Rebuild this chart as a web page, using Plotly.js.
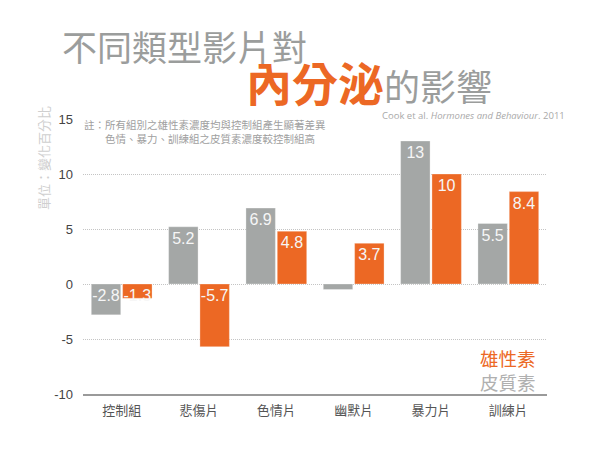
<!DOCTYPE html>
<html>
<head>
<meta charset="utf-8">
<script src="https://cdn.plot.ly/plotly-3.0.1.min.js"></script>
<style>html,body{margin:0;padding:0;background:#fff;}#chart{width:600px;height:450px;}</style>
</head>
<body>
<div id="chart"></div>
<script>
const categories = ['控制組', '悲傷片', '色情片', '幽默片', '暴力片', '訓練片'];
const cortisol = [-2.8, 5.2, 6.9, -0.5, 13, 5.5];
const testosterone = [-1.3, -5.7, 4.8, 3.7, 10, 8.4];
const seriesNames = ['皮質素', '雄性素'];
const yTicks = [-10, -5, 0, 5, 10, 15];

const GRAY = '#a4a7a6';
const ORANGE = '#ec6824';
const CJK = 'Liberation Sans, Noto Sans CJK TC, sans-serif';

function part(vals, positive) {
  return vals.map(v => (positive ? v >= 0 : v < 0) ? v : null);
}
function labels(vals, positive) {
  return vals.map(v => ((positive ? v >= 0 : v < 0) && Math.abs(v) >= 1) ? String(v) : '');
}
function mk(vals, name, color, group, positive) {
  return {
    type: 'bar', x: categories, y: part(vals, positive), name: name,
    offsetgroup: group, showlegend: false,
    marker: {color: color, line: {color: 'rgba(255,255,255,0.6)', width: 0.5}},
    text: labels(vals, positive), textposition: 'inside', textangle: 0,
    insidetextanchor: positive ? 'end' : 'start',
    constraintext: 'none',
    textfont: {family: 'Liberation Sans, Arial, sans-serif', size: 16, color: '#f6f6f6'},
    hoverinfo: 'x+y'
  };
}
const data = [
  mk(cortisol, seriesNames[0], GRAY, 'c', true),
  mk(cortisol, seriesNames[0], GRAY, 'c', false),
  mk(testosterone, seriesNames[1], ORANGE, 't', true),
  mk(testosterone, seriesNames[1], ORANGE, 't', false)
];

const L = 83, R = 547, T = 119, B = 394;
const px = x => (x - L) / (R - L);
const py = y => (B - y) / (B - T);

const layout = {
  width: 600, height: 450,
  margin: {l: L, r: 600 - R, t: T, b: 450 - B, pad: 0},
  paper_bgcolor: '#fff', plot_bgcolor: '#fff',
  barmode: 'group', bargap: 0.19, bargroupgap: 0.06,
  showlegend: false,
  font: {family: CJK, color: '#444'},
  xaxis: {
    showline: true, linecolor: '#9a9a9a', linewidth: 1.5,
    showgrid: false, ticks: '', ticklabelstandoff: 4,
    tickfont: {family: 'Noto Sans CJK TC, sans-serif', size: 13, color: '#555'}
  },
  yaxis: {
    range: [-10, 15], tickvals: yTicks, ticktext: yTicks.map(String),
    showgrid: true, gridcolor: '#c4c4c4', gridwidth: 1, griddash: '1px,1px',
    zeroline: false, showline: false, ticks: '', ticklabelstandoff: 9,
    tickfont: {family: 'Liberation Sans, Arial, sans-serif', size: 13, color: '#444'}
  },
  annotations: [
    {xref: 'paper', yref: 'paper', x: px(60), y: py(45), xanchor: 'left', yanchor: 'middle',
     showarrow: false, text: '不同類型影片對',
     font: {family: 'Noto Sans CJK TC, sans-serif', size: 35, color: '#9b9d9c'}},
    {xref: 'paper', yref: 'paper', x: px(244), y: py(81), xanchor: 'left', yanchor: 'middle',
     showarrow: false,
     text: '<b><span style="color:' + ORANGE + ';font-size:46px">內分泌</span></b><span style="font-size:36px">的影響</span>',
     font: {family: 'Noto Sans CJK TC, sans-serif', size: 36, color: '#9b9d9c'}},
    {xref: 'paper', yref: 'paper', x: px(567), y: py(116), xanchor: 'right', yanchor: 'middle',
     showarrow: false,
     text: 'Cook et al. <i>Hormones and Behaviour</i>. 2011',
     font: {family: 'Open Sans, sans-serif', size: 9.5, color: '#a9a9a9'}},
    {xref: 'paper', yref: 'paper', x: px(82), y: py(131), xanchor: 'left', yanchor: 'middle',
     showarrow: false, align: 'left',
     text: '註：所有組別之雄性素濃度均與控制組產生顯著差異<br>　　色情、暴力、訓練組之皮質素濃度較控制組高',
     font: {family: 'Noto Sans CJK TC, sans-serif', size: 10.5, color: '#a0a0a0'}},
    {xref: 'paper', yref: 'paper', x: px(43), y: py(158), xanchor: 'center', yanchor: 'middle',
     showarrow: false, textangle: -90, text: '單位：變化百分比',
     font: {family: 'Noto Sans CJK TC, sans-serif', size: 13, color: '#cfcfcf'}},
    {xref: 'paper', yref: 'paper', x: px(538), y: py(370), xanchor: 'right', yanchor: 'middle',
     showarrow: false, align: 'right',
     text: '<span style="color:' + ORANGE + '">' + seriesNames[1] + '</span><br><span style="color:#b0b0b0">' + seriesNames[0] + '</span>',
     font: {family: 'Noto Sans CJK TC, sans-serif', size: 18.5, color: '#b0b0b0'}}
  ]
};

Plotly.newPlot('chart', data, layout, {displayModeBar: false, staticPlot: true});
</script>
</body>
</html>
